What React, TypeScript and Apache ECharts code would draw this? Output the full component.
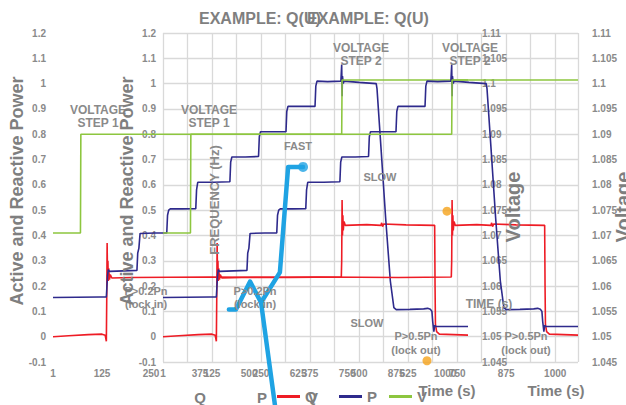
import React, { useEffect, useRef } from "react";
import * as echarts from "echarts";

// ---- axes ----
const X_MAX = 1058;
const X_LABEL_STEP = 125;
const X_GRID_STEP = 62.5;
const LEFT_MIN = -0.1;
const LEFT_MAX = 1.2;
const LEFT_STEP = 0.1;
const RIGHT_MIN = 1.045;
const RIGHT_MAX = 1.11;
const RIGHT_STEP = 0.005;

// ---- series (time index, value) ----
const qPoints: number[][] = [
  [0, 0.0], [40, 0.004], [90, 0.008], [125, 0.01], [133, 0.006], [136, -0.018],
  [137, 0.15], [138, 0.37], [139, 0.24], [140, 0.3], [141, 0.22], [142, 0.27],
  [144, 0.225], [146, 0.245], [150, 0.232], [200, 0.234], [400, 0.236], [600, 0.234],
  [735, 0.236], [736, 0.3], [737, 0.54], [738, 0.4], [739, 0.48], [740, 0.42],
  [742, 0.455], [745, 0.44], [800, 0.443], [836, 0.44], [838, 0.45], [840, 0.435],
  [843, 0.445], [900, 0.442], [973, 0.44], [974, 0.2], [975, 0.05], [978, 0.02],
  [985, 0.01], [1058, 0.006],
];

const pPoints: number[][] = [
  [0, 0.155], [60, 0.156], [120, 0.157], [136, 0.157], [139, 0.24], [141, 0.265],
  [144, 0.258], [180, 0.26], [214, 0.262], [216, 0.33], [219, 0.35], [222, 0.408],
  [260, 0.41], [290, 0.41], [292, 0.48], [295, 0.5], [299, 0.505], [330, 0.505],
  [364, 0.506], [366, 0.58], [369, 0.61], [410, 0.61], [451, 0.612], [453, 0.69],
  [456, 0.71], [490, 0.71], [524, 0.712], [526, 0.79], [529, 0.81], [560, 0.81],
  [594, 0.81], [596, 0.89], [599, 0.91], [640, 0.91], [668, 0.91], [670, 0.99],
  [673, 1.01], [700, 1.008], [734, 1.01], [736, 1.075], [737, 0.95], [738, 1.03],
  [740, 1.0], [742, 1.01], [780, 1.005], [824, 1.0], [826, 0.98], [836, 0.75],
  [848, 0.47], [860, 0.22], [869, 0.115], [875, 0.107], [910, 0.108], [945, 0.11],
  [955, 0.112], [962, 0.108], [966, 0.1], [968, 0.06], [971, 0.02], [973, 0.045],
  [976, 0.04], [1058, 0.04],
];

const vPoints: number[][] = [
  [0, 1.0705], [70, 1.0705], [71, 1.09], [736, 1.09], [737, 1.1007], [1058, 1.1007],
];

const freqPath: number[][] = [
  [168, 0.107], [186, 0.107], [222, 0.218], [250, 0.135], [298, 0.254], [319, 0.671], [357, 0.671],
];
const freqLeg: number[][] = [
  [250, 0.135], [288, -0.3],
];
const markerDots: number[][] = [
  [724, 0.496], [673, -0.095],
];

const SERIES_NAMES = ["Q", "P", "V"];

const FONT = '"Liberation Sans", Arial, sans-serif';
const GRAY = "#7f7f7f";
const LGRAY = "#8a8a8a";
const RED = "#ee1c25";
const NAVY = "#2e2a8c";
const GREEN = "#8dc63f";

function txt(x: number, y: number, text: string, size: number, rot = 0, color = LGRAY, lineHeight?: number) {
  return {
    type: "text",
    x,
    y,
    rotation: rot,
    z: 100,
    style: {
      text,
      fill: color,
      fontSize: size,
      fontWeight: "bold",
      fontFamily: FONT,
      align: "center",
      verticalAlign: "middle",
      textAlign: "center",
      textVerticalAlign: "middle",
      lineHeight: lineHeight ?? size + 1,
    },
  };
}

export default function App() {
  const ref = useRef<HTMLDivElement>(null);
  useEffect(() => {
    if (!ref.current) return;
    const chart = echarts.init(ref.current, undefined, { renderer: "svg" });
    const labelStyle = { color: LGRAY, fontSize: 10, fontWeight: "bold", fontFamily: FONT };
    const gridLine = { lineStyle: { color: "#d9d9d9", width: 1.3 } };

    const grids = [
      { left: 53, top: 33, width: 415, height: 329 },
      { left: 163, top: 33, width: 415, height: 329 },
    ];
    const xAxes = grids.map((_, i) => ({
      type: "value",
      gridIndex: i,
      min: 0,
      max: X_MAX,
      interval: X_GRID_STEP,
      axisLine: { show: false },
      axisTick: { show: false },
      splitLine: { show: i === 1, ...gridLine },
      axisLabel: {
        ...labelStyle,
        margin: 6,
        interval: 0,
        showMaxLabel: false,
        formatter: (v: number) => (v === 0 ? "1" : v % X_LABEL_STEP === 0 ? String(v) : ""),
      },
    }));
    const yAxes: any[] = [];
    grids.forEach((_, i) => {
      yAxes.push({
        type: "value",
        gridIndex: i,
        position: "left",
        min: LEFT_MIN,
        max: LEFT_MAX,
        interval: LEFT_STEP,
        axisLine: { show: false },
        axisTick: { show: false },
        splitLine: { show: i === 1, ...gridLine },
        axisLabel: { ...labelStyle, margin: 7, formatter: (v: number) => String(+v.toFixed(1)) },
      });
      yAxes.push({
        type: "value",
        gridIndex: i,
        position: "right",
        min: RIGHT_MIN,
        max: RIGHT_MAX,
        interval: RIGHT_STEP,
        axisLine: { show: false },
        axisTick: { show: false },
        splitLine: { show: false },
        axisLabel: { ...labelStyle, margin: 14, formatter: (v: number) => String(+v.toFixed(3)) },
      });
    });

    const series: any[] = [];
    [0, 1].forEach((k) => {
      const common = { type: "line", xAxisIndex: k, symbol: "none", z: 2 + k };
      series.push({ ...common, name: "Q", yAxisIndex: 2 * k, data: qPoints, lineStyle: { color: RED, width: 1.6 }, itemStyle: { color: RED } });
      series.push({ ...common, name: "P", yAxisIndex: 2 * k, data: pPoints, lineStyle: { color: NAVY, width: 1.6 }, itemStyle: { color: NAVY } });
      series.push({ ...common, name: "V", yAxisIndex: 2 * k + 1, data: vPoints, lineStyle: { color: GREEN, width: 1.6 }, itemStyle: { color: GREEN } });
    });
    series.push({
      type: "line", name: "Frequency", xAxisIndex: 1, yAxisIndex: 2, symbol: "none", clip: false, z: 5,
      data: freqPath, lineStyle: { color: "#1fa3e3", width: 4.5, cap: "round", join: "round" },
    });
    series.push({
      type: "line", name: "Frequency leg", xAxisIndex: 1, yAxisIndex: 2, symbol: "none", clip: false, z: 5,
      data: freqLeg, lineStyle: { color: "#1fa3e3", width: 4.5, cap: "round" },
    });
    series.push({
      type: "scatter", name: "Frequency end", xAxisIndex: 1, yAxisIndex: 2, z: 6,
      data: [freqPath[freqPath.length - 1]], symbolSize: 10, itemStyle: { color: "#1fa3e3" },
    });
    series.push({
      type: "scatter", name: "Markers", xAxisIndex: 1, yAxisIndex: 2, z: 6, clip: false,
      data: markerDots, symbolSize: 9, itemStyle: { color: "#f5a31a" },
    });

    const legendLeft = [277, 339, 389];
    const legends = SERIES_NAMES.map((n, i) => ({
      data: [n],
      left: legendLeft[i],
      top: 389,
      padding: 0,
      icon: "rect",
      itemWidth: 23,
      itemHeight: 3,
      itemGap: 0,
      textStyle: { color: GRAY, fontSize: 15, fontWeight: "bold", fontFamily: FONT, padding: [2, 0, 0, 0] },
    }));

    const graphic: any[] = [
      // copy 1 texts
      txt(17, 191, "Active and Reactive Power", 18, Math.PI / 2, GRAY),
      txt(513, 207, "Voltage", 20, Math.PI / 2, GRAY),
      txt(447, 390, "Time (s)", 15, 0, GRAY),
      txt(98, 116, "VOLTAGE\nSTEP 1", 12, 0, LGRAY, 13),
      txt(361, 54, "VOLTAGE\nSTEP 2", 12, 0, LGRAY, 13),
      txt(146, 297, "P>0.2Pn\n(lock in)", 11, 0, LGRAY, 13),
      txt(416, 343, "P>0.5Pn\n(lock out)", 11, 0, LGRAY, 14),
      txt(200, 397, "Q", 15, 0, GRAY),
      txt(262, 397, "P", 15, 0, GRAY),
      txt(313, 397, "V", 15, 0, GRAY),
      // copy 2 texts
      txt(127, 191, "Active and Reactive Power", 18, Math.PI / 2, GRAY),
      txt(623, 207, "Voltage", 20, Math.PI / 2, GRAY),
      txt(556, 390, "Time (s)", 15, 0, GRAY),
      txt(209, 116, "VOLTAGE\nSTEP 1", 12, 0, LGRAY, 13),
      txt(470, 54, "VOLTAGE\nSTEP 2", 12, 0, LGRAY, 13),
      txt(255, 297, "P>0.2Pn\n(lock in)", 11, 0, LGRAY, 13),
      txt(526, 343, "P>0.5Pn\n(lock out)", 11, 0, LGRAY, 14),
      // single annotations
      txt(298, 146, "FAST", 11),
      txt(380, 177, "SLOW", 11),
      txt(367, 323, "SLOW", 11),
      txt(489, 304, "TIME (s)", 12),
      txt(214, 200, "FREQUENCY (Hz)", 13, Math.PI / 2),
    ];

    chart.setOption({
      animation: false,
      backgroundColor: "#ffffff",
      textStyle: { fontFamily: FONT },
      title: [
        { text: "EXAMPLE: Q(U)", left: 199, top: 10, padding: 0, textStyle: { color: GRAY, fontSize: 16, fontWeight: "bold", fontFamily: FONT } },
        { text: "EXAMPLE: Q(U)", left: 307, top: 10, padding: 0, textStyle: { color: GRAY, fontSize: 16, fontWeight: "bold", fontFamily: FONT } },
      ],
      legend: legends,
      grid: grids,
      xAxis: xAxes,
      yAxis: yAxes,
      series,
      graphic,
    });
    return () => chart.dispose();
  }, []);
  return <div ref={ref} style={{ width: 626, height: 405, position: "absolute", left: 0, top: 0 }} />;
}
